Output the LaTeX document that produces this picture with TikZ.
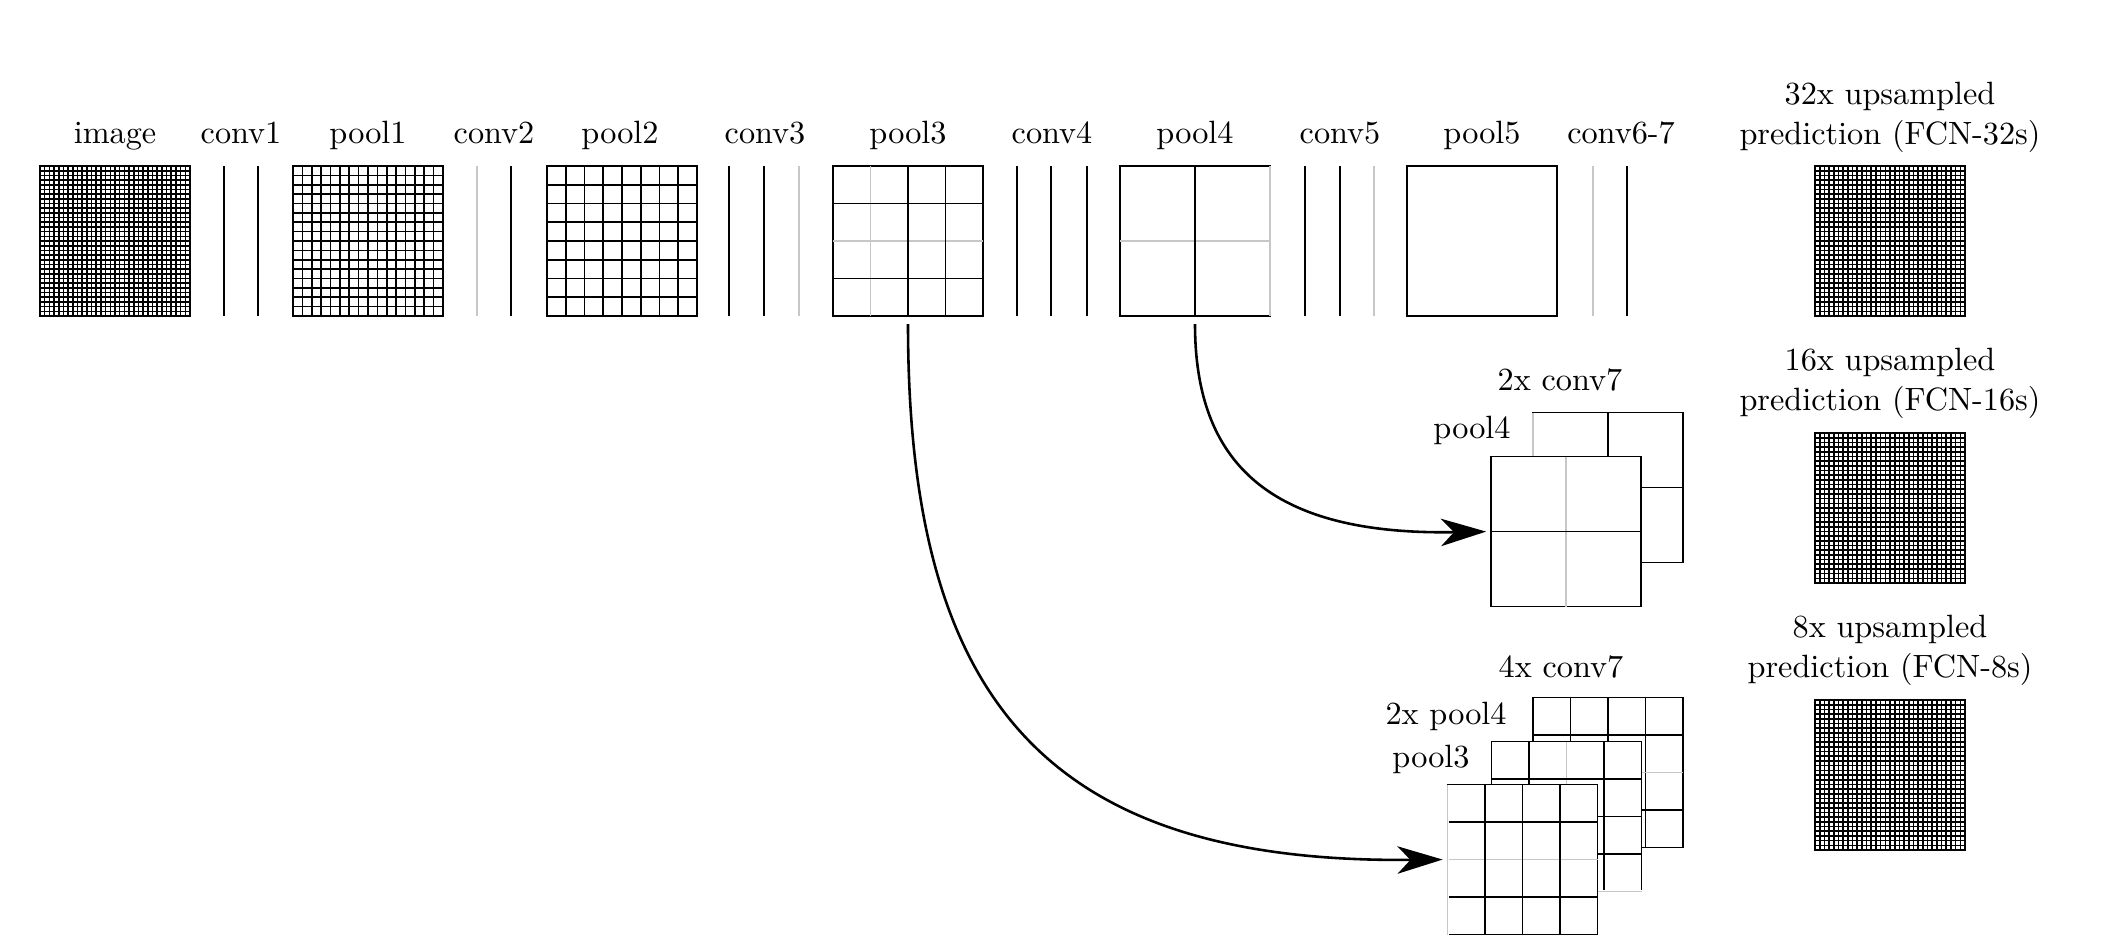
\documentclass[tikz,border=0pt]{standalone}
\usetikzlibrary{calc,arrows.meta}
\tikzset{
  sq/.style={draw, line width=0.55pt, minimum size=46.5pt, inner sep=0pt, outer sep=0pt, fill=white},
  gl/.style={line width=0.5pt, black},
  glt/.style={line width=0.5pt, black!22},
  wipe/.style={line width=0.8pt, white},
  lab/.style={anchor=base, inner sep=0pt},
  lab2/.style={anchor=south, inner sep=0pt, align=center, font=\fontsize{10}{12.4}\selectfont},
  flow/.style={line width=0.8pt, -{Stealth[length=14pt,width=8.5pt,inset=4pt]}, shorten <=2.5pt, shorten >=1.5pt},
}
\newcommand\gV[4][gl]{\draw[#1] ($(#2.north west)!#4/#3!(#2.north east)$) -- ($(#2.south west)!#4/#3!(#2.south east)$);}
\newcommand\gH[4][gl]{\draw[#1] ($(#2.north west)!#4/#3!(#2.south west)$) -- ($(#2.north east)!#4/#3!(#2.south east)$);}
\newcommand\gVs[4][gl]{\foreach \k in {#4}{\gV[#1]{#2}{#3}{\k}}}
\newcommand\gHs[4][gl]{\foreach \k in {#4}{\gH[#1]{#2}{#3}{\k}}}
\newcommand\grayedge[3]{\draw[wipe] (#1.#2) -- (#1.#3); \draw[glt] (#1.#2) -- (#1.#3);}
\begin{document}
\begin{tikzpicture}[x=0.31pt, y=-0.31pt]
\useasboundingbox (0,0) rectangle (2122,942);

% top labels
\node[lab] (limg) at (115,143) {image};
\node[lab] (lc1) at (241,143) {conv1};
\node[lab] (lp1) at (368,143) {pool1};
\node[lab] (lc2) at (494,143) {conv2};
\node[lab] (lp2) at (620,143) {pool2};
\node[lab] (lc3) at (765,143) {conv3};
\node[lab] (lp3) at (908,143) {pool3};
\node[lab] (lc4) at (1052,143) {conv4};
\node[lab] (lp4) at (1195,143) {pool4};
\node[lab] (lc5) at (1340,143) {conv5};
\node[lab] (lp5) at (1482,143) {pool5};
\node[lab] (lc67) at (1621,143) {conv6-7};

% image
\node[sq] (img) at (115,241) {};
\gVs{img}{32}{1,...,31}
\gHs{img}{32}{1,...,31}

% conv1
\draw[gl] (224,166) -- (224,316);
\draw[gl] (258,166) -- (258,316);

% pool1
\node[sq] (pone) at (368,241) {};
\gVs{pone}{16}{1,...,15}
\gHs{pone}{16}{1,...,15}

% conv2
\draw[glt] (477,166) -- (477,316);
\draw[gl] (511,166) -- (511,316);

% pool2
\node[sq] (ptwo) at (622,241) {};
\gVs{ptwo}{8}{1,...,7}
\gHs{ptwo}{8}{1,...,7}

% conv3
\draw[gl] (729,166) -- (729,316);
\draw[gl] (764,166) -- (764,316);
\draw[glt] (799,166) -- (799,316);

% pool3
\node[sq] (pthree) at (908,241) {};
\gV[glt]{pthree}{4}{1}
\gH[glt]{pthree}{4}{2}
\gVs{pthree}{4}{2,3}
\gHs{pthree}{4}{1,3}

% conv4
\draw[gl] (1017,166) -- (1017,316);
\draw[gl] (1051,166) -- (1051,316);
\draw[gl] (1087,166) -- (1087,316);

% pool4
\node[sq] (pfour) at (1195,241) {};
\gH[glt]{pfour}{2}{1}
\gV{pfour}{2}{1}
\grayedge{pfour}{north east}{south east}

% conv5
\draw[gl] (1305,166) -- (1305,316);
\draw[gl] (1340,166) -- (1340,316);
\draw[glt] (1374,166) -- (1374,316);

% pool5
\node[sq] (pfive) at (1482,241) {};

% conv6-7
\draw[glt] (1593,166) -- (1593,316);
\draw[gl] (1627,166) -- (1627,316);

% predictions
\node[lab2] (l32) at (1890,153) {32x upsampled\\prediction (FCN-32s)};
\node[sq] (out32) at (1890,241) {};
\gVs{out32}{32}{1,...,31}
\gHs{out32}{32}{1,...,31}

\node[lab2] (l16) at (1890,419) {16x upsampled\\prediction (FCN-16s)};
\node[sq] (out16) at (1890,508) {};
\gVs{out16}{32}{1,...,31}
\gHs{out16}{32}{1,...,31}

\node[lab2] (l8) at (1890,686) {8x upsampled\\prediction (FCN-8s)};
\node[sq] (out8) at (1890,775) {};
\gVs{out8}{32}{1,...,31}
\gHs{out8}{32}{1,...,31}

% FCN-16s stack
\node[lab] (lc7a) at (1560,390) {2x conv7};
\node[lab] (lp4a) at (1472,438) {pool4};
\node[sq] (cseva) at (1608,487.5) {};
\gV{cseva}{2}{1}
\gH{cseva}{2}{1}
\grayedge{cseva}{north west}{south west}
\node[sq] (fpfour) at (1566,531.5) {};
\gV[glt]{fpfour}{2}{1}
\gH{fpfour}{2}{1}

% FCN-8s stack
\node[lab] (lc7b) at (1561,677) {4x conv7};
\node[lab] (lp4b) at (1446,724) {2x pool4};
\node[lab] (lp3b) at (1431,767) {pool3};
\node[sq] (csevb) at (1608,772.5) {};
\gVs{csevb}{4}{1,2,3}
\gH[glt]{csevb}{4}{2}
\gHs{csevb}{4}{1,3}
\node[sq] (mpfour) at (1566.5,816.5) {};
\gV[glt]{mpfour}{4}{2}
\gVs{mpfour}{4}{1,3}
\gHs{mpfour}{4}{1,2,3}
\grayedge{mpfour}{south west}{south east}
\node[sq] (fpthree) at (1522.5,859.5) {};
\gH[glt]{fpthree}{4}{2}
\gVs{fpthree}{4}{1,2,3}
\gHs{fpthree}{4}{1,3}
\grayedge{fpthree}{north west}{south west}

% skip connections
\draw[flow] (pfour.south) .. controls ($(pfour.south)!0.68!(pfour.south |- fpfour.west)$) and ($(fpfour.west)!0.75!(pfour.south |- fpfour.west)+(0,4)$) .. (fpfour.west);
\draw[flow] (pthree.south) .. controls ($(pthree.south)!0.7!(pthree.south |- fpthree.west)$) and ($(fpthree.west)!0.75!(pthree.south |- fpthree.west)+(0,4)$) .. (fpthree.west);
\end{tikzpicture}
\end{document}
